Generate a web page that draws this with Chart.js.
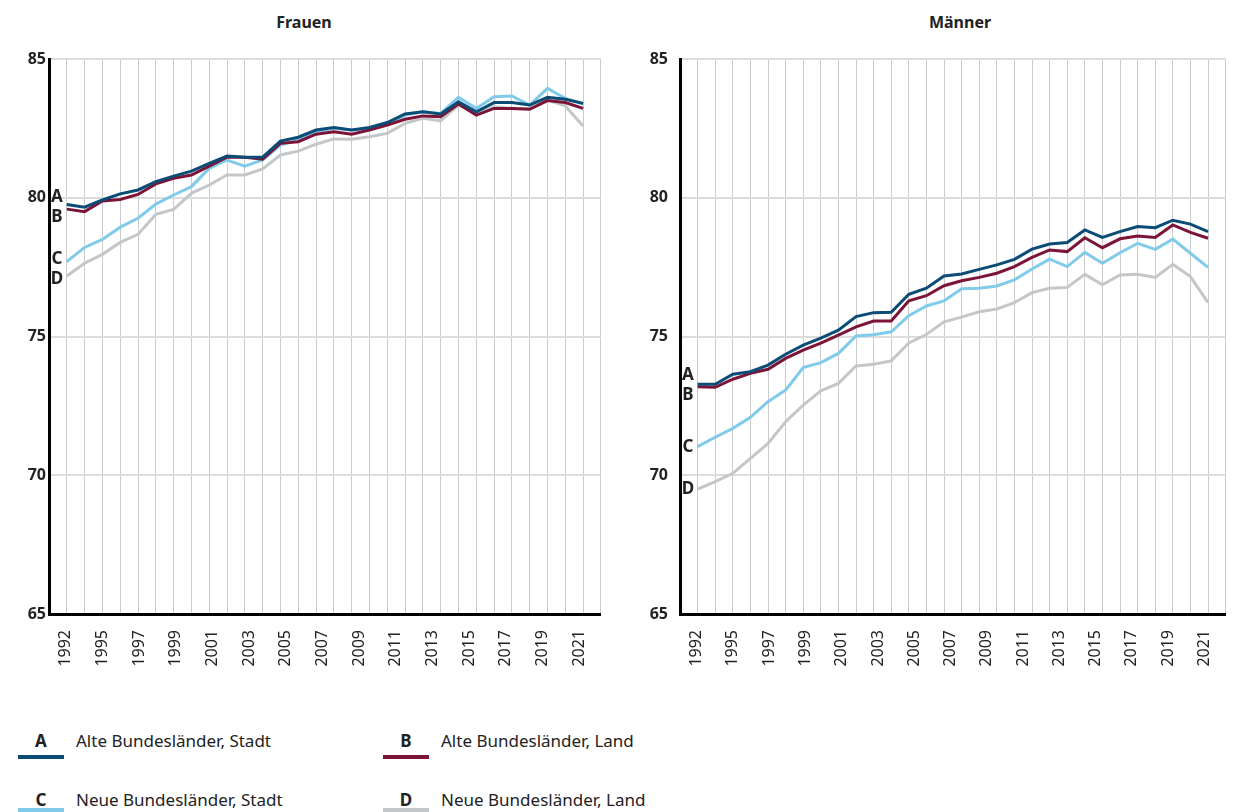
<!DOCTYPE html>
<html>
<head>
<meta charset="utf-8">
<script src="https://cdn.jsdelivr.net/npm/chart.js@4/dist/chart.umd.min.js"></script>
<style>
  body { margin: 0; width: 1240px; height: 812px; position: relative; overflow: hidden; background: #fff;
         font-family: "Noto Sans", sans-serif; color: #222; }
  .panel { position: absolute; top: 0; }
  .title { position: absolute; top: 11px; width: 200px; font-weight: bold; font-size: 16px; text-align: center; }
  .leg { position: absolute; font-size: 17px; line-height: 20px; white-space: nowrap; }
  .leg b { display: inline-block; text-align: center; }
  .bar { position: absolute; height: 4px; }
</style>
</head>
<body>
<div class="title" style="left:204px">Frauen</div>
<div class="title" style="left:860px">Männer</div>
<canvas id="frauen" class="panel" style="left:0px" width="615" height="690"></canvas>
<canvas id="maenner" class="panel" style="left:620px" width="620" height="690"></canvas>
<div id="legend"></div>

<script>
// years 1992 - 2021, one point per year
const years = ['1992', '1993', '1994', '1995', '1996', '1997', '1998', '1999', '2000', '2001',
  '2002', '2003', '2004', '2005', '2006', '2007', '2008', '2009', '2010', '2011',
  '2012', '2013', '2014', '2015', '2016', '2017', '2018', '2019', '2020', '2021'];
// labels printed under the axis
const tickLabels = ['1992', '1995', '1997', '1999', '2001', '2003', '2005', '2007',
  '2009', '2011', '2013', '2015', '2017', '2019', '2021'];

const seriesLetters = ['A', 'B', 'C', 'D'];
const seriesNames = ['Alte Bundesländer, Stadt', 'Alte Bundesländer, Land',
  'Neue Bundesländer, Stadt', 'Neue Bundesländer, Land'];
const seriesColors = ['#0b4c77', '#7c1437', '#80cbea', '#c3c7ca'];

// Frauen
const frauenA = [79.76, 79.66, 79.92, 80.14, 80.28, 80.58, 80.78, 80.96, 81.24, 81.50,
  81.46, 81.46, 82.04, 82.18, 82.44, 82.53, 82.44, 82.53, 82.71, 83.02,
  83.10, 83.02, 83.46, 83.10, 83.43, 83.43, 83.34, 83.62, 83.55, 83.40];
const frauenB = [79.59, 79.50, 79.88, 79.94, 80.12, 80.50, 80.70, 80.82, 81.14, 81.46,
  81.46, 81.39, 81.96, 82.02, 82.29, 82.38, 82.29, 82.44, 82.62, 82.83,
  82.95, 82.92, 83.38, 82.98, 83.22, 83.22, 83.19, 83.50, 83.43, 83.22];
const frauenC = [77.70, 78.21, 78.50, 78.94, 79.26, 79.77, 80.10, 80.40, 81.06, 81.36,
  81.14, 81.36, 81.90, 82.08, 82.38, 82.50, 82.44, 82.50, 82.65, 82.98,
  83.10, 83.04, 83.62, 83.22, 83.64, 83.67, 83.34, 83.94, 83.58, 83.38];
const frauenD = [77.18, 77.64, 77.96, 78.39, 78.68, 79.40, 79.58, 80.16, 80.46, 80.82,
  80.82, 81.04, 81.54, 81.68, 81.93, 82.12, 82.11, 82.20, 82.32, 82.68,
  82.86, 82.77, 83.34, 83.04, 83.28, 83.22, 83.22, 83.52, 83.31, 82.59];

// Männer
const maennerA = [73.28, 73.28, 73.64, 73.73, 73.97, 74.36, 74.69, 74.94, 75.23, 75.72,
  75.86, 75.87, 76.52, 76.74, 77.18, 77.25, 77.42, 77.58, 77.78, 78.15,
  78.33, 78.39, 78.84, 78.57, 78.78, 78.96, 78.92, 79.19, 79.05, 78.78];
const maennerB = [73.19, 73.17, 73.46, 73.67, 73.82, 74.21, 74.51, 74.76, 75.05, 75.35,
  75.56, 75.56, 76.29, 76.47, 76.83, 77.01, 77.13, 77.28, 77.52, 77.85,
  78.12, 78.06, 78.56, 78.20, 78.52, 78.62, 78.57, 79.02, 78.75, 78.54];
const maennerC = [71.03, 71.37, 71.69, 72.09, 72.65, 73.07, 73.88, 74.06, 74.39, 75.02,
  75.06, 75.17, 75.75, 76.10, 76.28, 76.72, 76.74, 76.82, 77.04, 77.43,
  77.79, 77.52, 78.03, 77.64, 78.02, 78.36, 78.14, 78.51, 78.00, 77.49];
const maennerD = [69.50, 69.77, 70.07, 70.61, 71.15, 71.93, 72.53, 73.04, 73.31, 73.94,
  74.00, 74.12, 74.77, 75.07, 75.53, 75.70, 75.89, 75.99, 76.22, 76.58,
  76.74, 76.77, 77.24, 76.86, 77.22, 77.24, 77.13, 77.60, 77.16, 76.22];

const FONT = '"Noto Sans", sans-serif';

// letters A-D at the start of each line, pushed apart when they would overlap
const startLetters = {
  id: 'startLetters',
  afterDatasetsDraw(chart) {
    const ctx = chart.ctx, yScale = chart.scales.y, area = chart.chartArea;
    const marks = chart.data.datasets.map((ds, i) => ({ t: seriesLetters[i], y: yScale.getPixelForValue(ds.data[1]) }));
    marks.sort((a, b) => a.y - b.y);
    for (let pass = 0; pass < 6; pass++) {
      for (let i = 1; i < marks.length; i++) {
        const gap = marks[i].y - marks[i - 1].y;
        if (gap < 20) { const d = (20 - gap) / 2; marks[i - 1].y -= d; marks[i].y += d; }
      }
    }
    ctx.save();
    ctx.font = 'bold 17px ' + FONT;
    ctx.fillStyle = '#222';
    ctx.textAlign = 'center';
    ctx.textBaseline = 'middle';
    marks.forEach(m => ctx.fillText(m.t, area.left + 8, m.y));
    ctx.restore();
  }
};

function makeChart(id, series, axisWidth, labelPad, rightPad) {
  // one empty slot left and right of the data
  const catLabels = [''].concat(years, ['']);
  return new Chart(document.getElementById(id), {
    type: 'line',
    data: {
      labels: catLabels,
      datasets: series.map((vals, i) => ({
        label: seriesNames[i],
        data: [null].concat(vals),
        borderColor: seriesColors[i],
        borderWidth: 3,
        pointRadius: 0,
        tension: 0,
        xAxisID: 'x',
        yAxisID: 'y'
      }))
    },
    options: {
      responsive: false,
      animation: false,
      events: [],
      layout: { padding: { top: 59, right: rightPad, left: 0, bottom: 0 } },
      plugins: { legend: { display: false }, tooltip: { enabled: false } },
      scales: {
        x: {
          type: 'category',
          offset: false,
          grid: { color: '#cbcbcb', lineWidth: 1, drawTicks: false },
          border: { color: '#000', width: 3 },
          ticks: { display: false, autoSkip: false },
          afterFit: s => { s.height = 0; }
        },
        xt: {
          type: 'linear',
          position: 'bottom',
          min: -0.46,
          max: 14.59,
          grid: { display: false, drawTicks: false },
          border: { display: false },
          afterBuildTicks: s => { s.ticks = tickLabels.map((t, i) => ({ value: i })); },
          afterFit: s => { s.height = 76; },
          ticks: {
            autoSkip: false, minRotation: 90, maxRotation: 90, padding: 16,
            color: '#222', font: { family: FONT, size: 16 },
            callback: (v, i) => tickLabels[i]
          }
        },
        y: {
          min: 65,
          max: 85,
          grid: { color: '#dcdcdc', lineWidth: 2, drawTicks: false },
          border: { color: '#000', width: 3 },
          afterFit: s => { s.width = axisWidth; },
          ticks: {
            stepSize: 5, padding: labelPad, color: '#222',
            font: { family: FONT, size: 16, weight: 'bold' }
          }
        }
      }
    },
    plugins: [startLetters]
  });
}

makeChart('frauen', [frauenA, frauenB, frauenC, frauenD], 49, 3, 10);
makeChart('maenner', [maennerA, maennerB, maennerC, maennerD], 60, 12, 3);

// legend below the panels: [left, text top, bar top]
const legendPos = [[18, 731, 755], [383, 731, 755], [18, 790, 808], [383, 790, 808]];
const legend = document.getElementById('legend');
seriesLetters.forEach((letter, i) => {
  const [lx, ly, by] = legendPos[i];
  const item = document.createElement('div');
  item.className = 'leg';
  item.style.left = lx + 'px';
  item.style.top = ly + 'px';
  item.innerHTML = '<b style="width:46px">' + letter + '</b><span style="margin-left:12px">' + seriesNames[i] + '</span>';
  legend.appendChild(item);
  const bar = document.createElement('div');
  bar.className = 'bar';
  bar.style.left = lx + 'px';
  bar.style.top = by + 'px';
  bar.style.width = '46px';
  bar.style.background = seriesColors[i];
  legend.appendChild(bar);
});
</script>
</body>
</html>
